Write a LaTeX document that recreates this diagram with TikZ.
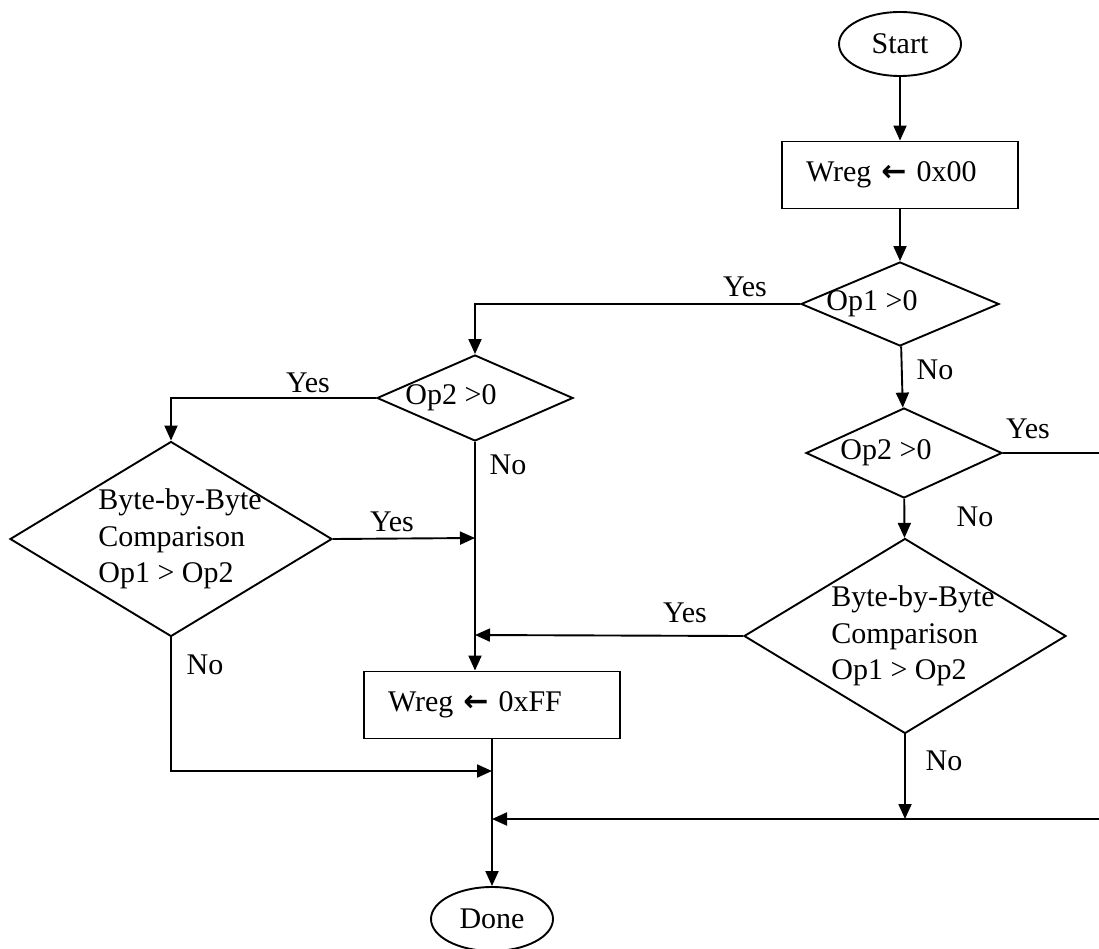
\documentclass[tikz,border=0pt]{standalone}
\usepackage{fontspec}
\setmainfont{Liberation Serif}
\newfontfamily\arrowfont{DejaVu Sans}
\usetikzlibrary{arrows.meta, positioning, shapes.geometric}

\tikzset{
  terminal/.style={draw, ellipse, minimum width=122pt, minimum height=64pt, inner sep=0pt},
  procbox/.style={draw, minimum height=67pt, inner xsep=24pt, align=left},
  decision/.style={draw, diamond, inner sep=0pt},
  lbl/.style={inner sep=0pt}
}

\begin{document}
\begin{tikzpicture}[x=1pt, y=-1pt, line width=1.9pt,
    font=\fontsize{30}{36.5}\selectfont,
    >={Triangle[length=15pt, width=13pt]}]
  \useasboundingbox (0,0) rectangle (1099,949);

  \node (start) [terminal] at (900,44) {Start};
  \node (set0)  [procbox, text width=188pt] at (900,175) {Wreg {\arrowfont\bfseries ←} 0x00};
  \node (op1)   [decision, minimum width=198pt, minimum height=84pt,
                 label={[xshift=-28pt]center:Op1 >0}] at (900,304) {};
  \node (op2r)  [decision, minimum width=196pt, minimum height=90pt,
                 label={[xshift=-18pt]center:Op2 >0}] at (904,453) {};
  \node (cmpR)  [decision, minimum width=322pt, minimum height=195pt,
                 label={[align=left, xshift=8pt]center:{Byte-by-Byte\\Comparison\\Op1 > Op2}}] at (905,636) {};
  \node (op2l)  [decision, minimum width=196pt, minimum height=86pt,
                 label={[xshift=-24pt]center:Op2 >0}] at (475,398) {};
  \node (cmpL)  [decision, minimum width=322pt, minimum height=195pt,
                 label={[align=left, xshift=9pt]center:{Byte-by-Byte\\Comparison\\Op1 > Op2}}] at (171,539) {};
  \node (set1)  [procbox, text width=208pt] at (492,705) {Wreg {\arrowfont\bfseries ←} 0xFF};
  \node (done)  [terminal] at (492,919) {Done};

  % joins on the two trunks
  \coordinate (m1) at (475,538);
  \coordinate (m2) at (475,635);
  \coordinate (m3) at (492,771);
  \coordinate (j2) at (492,819);
  \coordinate (rim) at (1105,0);

  \foreach \a/\b in {start/set0, set0/op1, op1/op2r, op2r/cmpR, set1/done}
    \draw[->] (\a) -- (\b);

  \draw[->] (op1.west) -| (op2l.north);
  \draw[->] (op2r.east) -- (op2r.east -| rim) |- (j2);
  \draw[->] (cmpR.west) -- (m2);
  \draw[->] (cmpR.south) -- (cmpR.south |- j2);
  \draw[->] (op2l.west) -| (cmpL.north);
  \draw[->] (op2l.south) -- (op2l.south |- set1.north);
  \draw[->] (cmpL.east) -- (m1);
  \draw[->] (cmpL.south) |- (m3);

  \node (yesA) [lbl] at (745,287) {Yes};
  \node (noA)  [lbl] at (935,370) {No};
  \node (yesB) [lbl] at (1028,429) {Yes};
  \node (noB)  [lbl] at (975,517) {No};
  \node (yesC) [lbl] at (685,613) {Yes};
  \node (noC)  [lbl] at (944,761) {No};
  \node (yesD) [lbl] at (308,383) {Yes};
  \node (noD)  [lbl] at (508,465) {No};
  \node (yesE) [lbl] at (392,522) {Yes};
  \node (noE)  [lbl] at (205,665) {No};
\end{tikzpicture}
\end{document}
